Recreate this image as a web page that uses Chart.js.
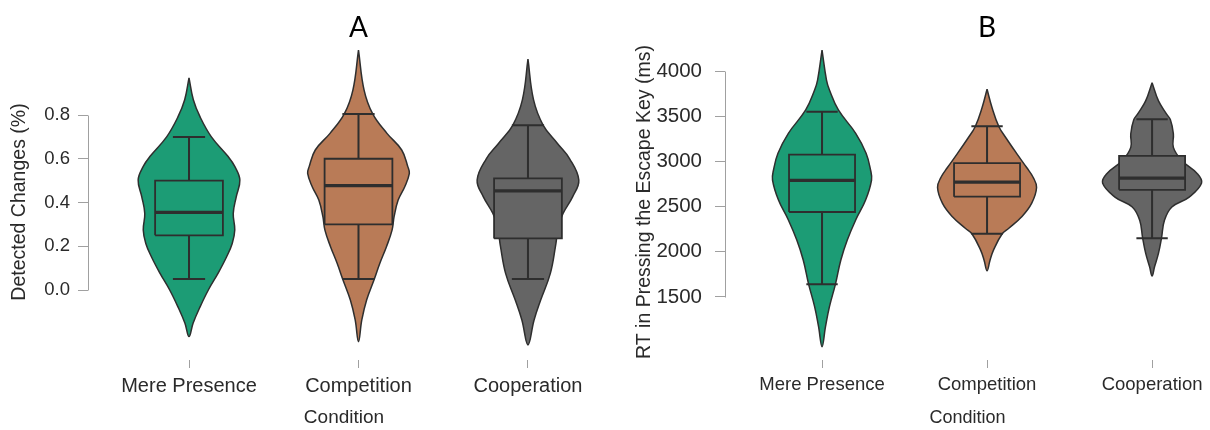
<!DOCTYPE html>
<html>
<head>
<meta charset="utf-8">
<title>Detected changes and escape-key RT by condition</title>
<script src="https://cdn.jsdelivr.net/npm/chart.js@4.4.1/dist/chart.umd.min.js"></script>
<style>
  html, body { margin: 0; padding: 0; background: #ffffff; }
  #wrap { position: relative; width: 1210px; height: 430px; overflow: hidden; }
  #panelA { position: absolute; left: 0; top: 0; }
  #panelB { position: absolute; left: 600px; top: 0; }
</style>
</head>
<body>
<div id="wrap">
  <canvas id="panelA" width="600" height="430"></canvas>
  <canvas id="panelB" width="610" height="430"></canvas>
</div>
<script>
// ---- categories and tick labels ----
const conditions = ['Mere Presence', 'Competition', 'Cooperation'];
const changeTicks = [0, 0.2, 0.4, 0.6, 0.8];
const rtTicks = [1500, 2000, 2500, 3000, 3500, 4000];
const conditionColors = ['#1c9c75', '#b97b57', '#656565'];

// ---- panel A: detected changes, box statistics per condition ----
const changeLow  = [0.05, 0.05, 0.05];
const changeQ1   = [0.25, 0.30, 0.236];
const changeMed  = [0.355, 0.477, 0.453];
const changeQ3   = [0.50, 0.60, 0.51];
const changeHigh = [0.70, 0.805, 0.753];

// density outline per condition: levels and relative half-widths
const mereChangeLevels = [0.97, 0.87, 0.79, 0.70, 0.61, 0.565, 0.503, 0.427, 0.35, 0.274, 0.213, 0.152, 0.076, 0.0, -0.076, -0.152, -0.213];
const mereChangeWidths = [0, 0.085, 0.22, 0.44, 0.77, 0.90, 1.0, 0.93, 0.87, 0.90, 0.85, 0.74, 0.57, 0.38, 0.22, 0.08, 0];
const compChangeLevels = [1.097, 0.914, 0.805, 0.716, 0.64, 0.564, 0.533, 0.472, 0.411, 0.335, 0.274, 0.198, 0.122, 0.049, -0.046, -0.137, -0.236];
const compChangeWidths = [0, 0.11, 0.28, 0.56, 0.85, 0.97, 1.0, 0.91, 0.78, 0.70, 0.66, 0.55, 0.42, 0.31, 0.16, 0.065, 0];
const coopChangeLevels = [1.055, 0.869, 0.753, 0.67, 0.60, 0.503, 0.427, 0.35, 0.29, 0.198, 0.076, -0.046, -0.137, -0.251];
const coopChangeWidths = [0, 0.11, 0.30, 0.58, 0.82, 1.0, 0.88, 0.69, 0.60, 0.54, 0.44, 0.25, 0.12, 0];

// ---- panel B: RT in pressing the escape key (ms) ----
const rtLow  = [1640, 2200, 2150];
const rtQ1   = [2440, 2610, 2685];
const rtMed  = [2790, 2770, 2815];
const rtQ3   = [3075, 2980, 3060];
const rtHigh = [3550, 3390, 3465];

const mereRtLevels = [4232, 3900, 3790, 3569, 3311, 3090, 2905, 2794, 2573, 2352, 2130, 1909, 1640, 1393, 1171, 950];
const mereRtWidths = [0, 0.09, 0.15, 0.33, 0.68, 0.89, 0.98, 1.0, 0.88, 0.68, 0.51, 0.38, 0.27, 0.15, 0.07, 0];
const compRtLevels = [3798, 3596, 3383, 3262, 3086, 2932, 2825, 2711, 2536, 2388, 2260, 2194, 2018, 1907, 1790];
const compRtWidths = [0, 0.10, 0.24, 0.38, 0.60, 0.80, 0.93, 1.0, 0.90, 0.70, 0.44, 0.30, 0.13, 0.06, 0];
const coopRtLevels = [3871, 3670, 3526, 3460, 3306, 3155, 3009, 2866, 2760, 2605, 2495, 2348, 2150, 1985, 1834, 1731];
const coopRtWidths = [0, 0.13, 0.29, 0.37, 0.43, 0.43, 0.60, 0.91, 1.0, 0.75, 0.40, 0.25, 0.19, 0.13, 0.05, 0];

// ---- geometry in category units ----
const VIOLIN_HALF = 0.30;
const BOX_HALF = 0.20;
const CAP_HALF = 0.095;
const INK = '#2e2e2e';

Chart.defaults.font.family = "'Liberation Sans', Arial, sans-serif";
Chart.defaults.color = '#333333';

// closed outline: down the right side, back up the left side
function violinOutline(center, levels, widths) {
  const right = levels.map((v, i) => ({ x: center + widths[i] * VIOLIN_HALF, y: v }));
  const left = levels.map((v, i) => ({ x: center - widths[i] * VIOLIN_HALF, y: v })).reverse();
  return right.concat(left.slice(1));
}

function buildDatasets(outlines, low, q1, med, q3, high) {
  const sets = [];
  conditions.forEach((name, i) => {
    const c = i;
    const color = conditionColors[i];
    sets.push({
      label: name + ' density', data: violinOutline(c, outlines[i][0], outlines[i][1]),
      showLine: true, fill: 'shape', backgroundColor: color, borderColor: INK,
      borderWidth: 1.5, tension: 0.4, pointRadius: 0, order: 4
    });
    sets.push({
      label: name + ' whiskers',
      data: [
        { x: c, y: q3[i] }, { x: c, y: high[i] }, { x: c, y: null },
        { x: c - CAP_HALF, y: high[i] }, { x: c + CAP_HALF, y: high[i] }, { x: c, y: null },
        { x: c, y: q1[i] }, { x: c, y: low[i] }, { x: c, y: null },
        { x: c - CAP_HALF, y: low[i] }, { x: c + CAP_HALF, y: low[i] }
      ],
      showLine: true, spanGaps: false, fill: false, borderColor: INK, borderWidth: 2,
      tension: 0, pointRadius: 0, order: 3
    });
    sets.push({
      label: name + ' box',
      data: [
        { x: c - BOX_HALF, y: q1[i] }, { x: c + BOX_HALF, y: q1[i] },
        { x: c + BOX_HALF, y: q3[i] }, { x: c - BOX_HALF, y: q3[i] },
        { x: c - BOX_HALF, y: q1[i] }
      ],
      showLine: true, fill: 'shape', backgroundColor: color, borderColor: INK,
      borderWidth: 1.8, borderJoinStyle: 'miter', tension: 0, pointRadius: 0, order: 2
    });
    sets.push({
      label: name + ' median',
      data: [{ x: c - BOX_HALF, y: med[i] }, { x: c + BOX_HALF, y: med[i] }],
      showLine: true, fill: false, borderColor: INK, borderWidth: 3.2,
      tension: 0, pointRadius: 0, order: 1
    });
  });
  return sets;
}

// y axis line drawn only across the labelled tick range
const tickSpanAxis = {
  id: 'tickSpanAxis',
  afterDraw(chart) {
    const y = chart.scales.y;
    const ctx = chart.ctx;
    const vals = y.ticks.map(t => t.value);
    const top = y.getPixelForValue(Math.max(...vals));
    const bottom = y.getPixelForValue(Math.min(...vals));
    const x = Math.round(chart.chartArea.left) + 0.5;
    ctx.save();
    ctx.strokeStyle = '#a0a0a0';
    ctx.lineWidth = 1;
    ctx.beginPath();
    ctx.moveTo(x, Math.round(top) + 0.5);
    ctx.lineTo(x, Math.round(bottom) + 0.5);
    ctx.stroke();
    ctx.restore();
  }
};

// panel letter centred over the middle condition
const panelLetter = {
  id: 'panelLetter',
  afterDraw(chart, args, opts) {
    const ctx = chart.ctx;
    const x = chart.scales.x.getPixelForValue(1);
    ctx.save();
    ctx.font = "28px Lato, 'Open Sans', sans-serif";
    ctx.fillStyle = '#000000';
    ctx.textAlign = 'center';
    ctx.textBaseline = 'middle';
    ctx.fillText(opts.text, x, 28);
    ctx.restore();
  }
};

function panelOptions(cfg) {
  return {
    responsive: false,
    animation: false,
    events: [],
    layout: { padding: { top: 44, right: 0, bottom: 0, left: 0 } },
    plugins: {
      legend: { display: false },
      tooltip: { enabled: false },
      title: { display: false },
      panelLetter: { text: cfg.letter }
    },
    scales: {
      x: {
        type: 'linear', min: cfg.xMin, max: cfg.xMax,
        afterBuildTicks: s => { s.ticks = conditions.map((_, i) => ({ value: i })); },
        afterFit: s => { s.height = 70; },
        ticks: {
          callback: v => conditions[v], autoSkip: false, maxRotation: 0,
          font: { size: cfg.xFont }, color: '#2a2a2a', padding: 6
        },
        grid: { drawOnChartArea: false, drawTicks: true, tickLength: 8, color: '#a0a0a0' },
        border: { display: false },
        title: { display: true, text: 'Condition', font: { size: cfg.condFont }, color: '#2a2a2a', padding: { top: 0, bottom: 1 } }
      },
      y: {
        type: 'linear', min: cfg.yMin, max: cfg.yMax,
        afterBuildTicks: s => { s.ticks = cfg.ticks.map(v => ({ value: v })); },
        afterFit: s => { s.width = cfg.axisX; },
        ticks: {
          callback: cfg.format, font: { size: cfg.tickFont }, color: '#2a2a2a', padding: cfg.tickPad
        },
        grid: { drawOnChartArea: false, drawTicks: true, tickLength: 10, color: '#a0a0a0' },
        border: { display: false },
        title: {
          display: true, text: cfg.yTitle, font: { size: cfg.titleFont }, color: '#2a2a2a',
          padding: { top: cfg.titlePad, bottom: 0 }
        }
      }
    }
  };
}

new Chart(document.getElementById('panelA'), {
  type: 'scatter',
  data: {
    datasets: buildDatasets(
      [[mereChangeLevels, mereChangeWidths], [compChangeLevels, compChangeWidths], [coopChangeLevels, coopChangeWidths]],
      changeLow, changeQ1, changeMed, changeQ3, changeHigh)
  },
  options: panelOptions({
    letter: 'A', xMin: -0.596, xMax: 2.425, yMin: -0.32, yMax: 1.1246,
    ticks: changeTicks, format: v => v.toFixed(1), axisX: 88, tickPad: 8,
    yTitle: 'Detected Changes (%)', titlePad: 8,
    xFont: 20, condFont: 19, tickFont: 18.5, titleFont: 19.5
  }),
  plugins: [tickSpanAxis, panelLetter]
});

new Chart(document.getElementById('panelB'), {
  type: 'scatter',
  data: {
    datasets: buildDatasets(
      [[mereRtLevels, mereRtWidths], [compRtLevels, compRtWidths], [coopRtLevels, coopRtWidths]],
      rtLow, rtQ1, rtMed, rtQ3, rtHigh)
  },
  options: panelOptions({
    letter: 'B', xMin: -0.588, xMax: 2.351, yMin: 803, yMax: 4298.7,
    ticks: rtTicks, format: v => String(v), axisX: 125, tickPad: 13,
    yTitle: 'RT in Pressing the Escape Key (ms)', titlePad: 33,
    xFont: 18.5, condFont: 18, tickFont: 20.5, titleFont: 19.5
  }),
  plugins: [tickSpanAxis, panelLetter]
});
</script>
</body>
</html>
